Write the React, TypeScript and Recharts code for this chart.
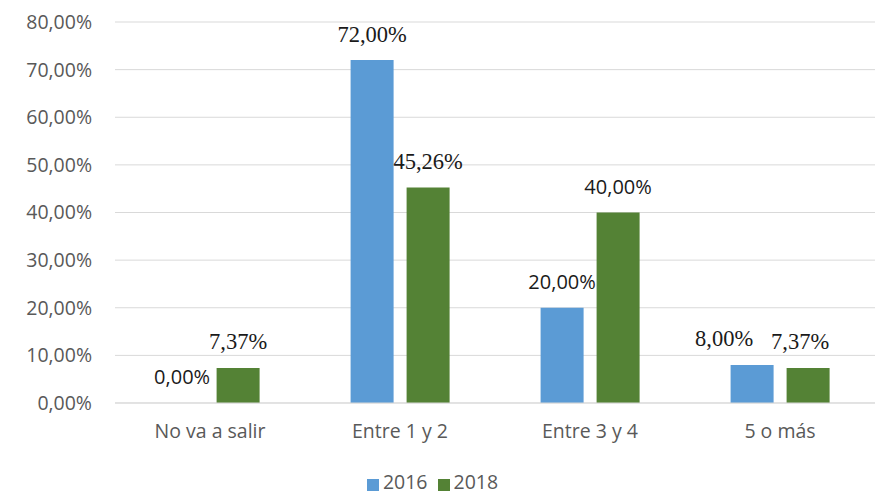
import { BarChart, Bar, XAxis, YAxis, CartesianGrid, Legend, LabelList } from 'recharts'

const categories = ['No va a salir', 'Entre 1 y 2', 'Entre 3 y 4', '5 o más']
const values2016 = [0, 72, 20, 8]
const values2018 = [7.37, 45.26, 40, 7.37]
const yTicks = [0, 10, 20, 30, 40, 50, 60, 70, 80]

// en la imagen original algunas etiquetas salen en serif y otras no,
// y las de "5 o más" están algo corridas a la izquierda
const serif2016 = [false, true, false, true]
const serif2018 = [true, true, false, true]
const shift2016 = [0, 0, 0, -28]
const shift2018 = [0, 0, 0, -8]

const data = categories.map((name, i) => ({
  name,
  y2016: values2016[i],
  y2018: values2018[i],
}))

const fmt = (v: number) => `${v.toFixed(2).replace('.', ',')}%`

const SANS = '"Open Sans", sans-serif'
const SERIF = '"Liberation Serif", serif'

function makeLabel(serifFlags: boolean[], shifts: number[]) {
  return (props: any) => {
    const { x, y, width, value, index } = props
    const serif = serifFlags[index]
    return (
      <text
        x={x + width / 2 + (shifts[index] || 0)}
        y={y - 26}
        textAnchor="middle"
        dominantBaseline="central"
        fontFamily={serif ? SERIF : SANS}
        fontSize={serif ? 22.5 : 20}
        fill="#1a1a1a"
      >
        {fmt(value)}
      </text>
    )
  }
}

export default function App() {
  return (
    <div style={{ position: 'absolute', left: 0, top: 0, width: 877, height: 494, background: '#fff' }}>
      <BarChart
        width={877}
        height={494}
        data={data}
        margin={{ top: 22, right: 2, left: 0, bottom: 0 }}
        barCategoryGap="24%"
        barGap={13}
      >
        <CartesianGrid vertical={false} stroke="#d9d9d9" />
        <XAxis
          dataKey="name"
          axisLine={{ stroke: '#d9d9d9' }}
          tickLine={false}
          height={62}
          tickMargin={15}
          tick={{ fontFamily: SANS, fontSize: 19.5, fill: '#595959' }}
        />
        <YAxis
          domain={[0, 80]}
          ticks={yTicks}
          tickFormatter={fmt}
          axisLine={false}
          tickLine={false}
          width={115}
          tickMargin={17}
          tick={{ fontFamily: SANS, fontSize: 19.5, fill: '#595959' }}
        />
        <Legend
          height={29}
          iconType="square"
          iconSize={12}
          wrapperStyle={{ bottom: -3 }}
          formatter={(v: string) => <span style={{ color: '#595959', fontFamily: SANS, fontSize: 19.5 }}>{v}</span>}
        />
        <Bar dataKey="y2016" name="2016" fill="#5b9bd5" minPointSize={0.01} isAnimationActive={false}>
          <LabelList dataKey="y2016" content={makeLabel(serif2016, shift2016)} />
        </Bar>
        <Bar dataKey="y2018" name="2018" fill="#548235" isAnimationActive={false}>
          <LabelList dataKey="y2018" content={makeLabel(serif2018, shift2018)} />
        </Bar>
      </BarChart>
    </div>
  )
}
